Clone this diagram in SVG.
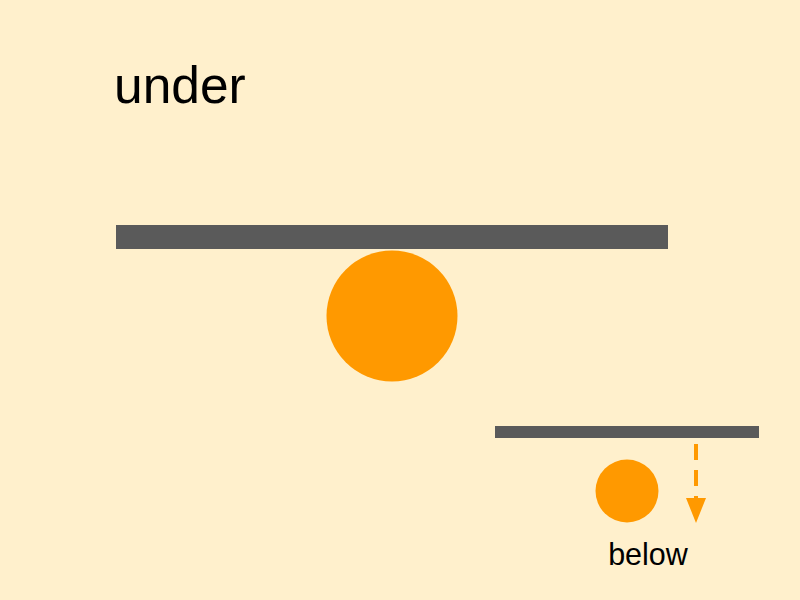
<svg xmlns="http://www.w3.org/2000/svg" width="800" height="600" viewBox="0 0 800 600">
<style>
.bar{fill:#5a5a5a}
.ball{fill:#ff9900}
.lbl{font-family:"Liberation Sans",Arial,sans-serif;fill:#000}
.dash{stroke:#ff9900;stroke-width:4;stroke-dasharray:16 10;fill:none}
.head{fill:#ff9900}
</style>
<rect width="800" height="600" fill="#fff0cc"/>
<g id="title"><text class="lbl" x="114" y="103" font-size="51.5">under</text></g>
<g id="big-bar"><rect class="bar" x="116" y="225" width="552" height="24"/></g>
<g id="big-ball"><circle class="ball" cx="392" cy="316" r="65.5"/></g>
<g id="small-bar"><rect class="bar" x="495" y="426" width="264" height="12"/></g>
<g id="small-ball"><circle class="ball" cx="627" cy="491" r="31.5"/></g>
<g id="connectors">
<line class="dash" x1="696" y1="444" x2="696" y2="498"/>
<polygon class="head" points="686,498 706,498 696,523"/>
</g>
<g id="below-label"><text class="lbl" x="648" y="565" font-size="30.5" text-anchor="middle">below</text></g>
</svg>
